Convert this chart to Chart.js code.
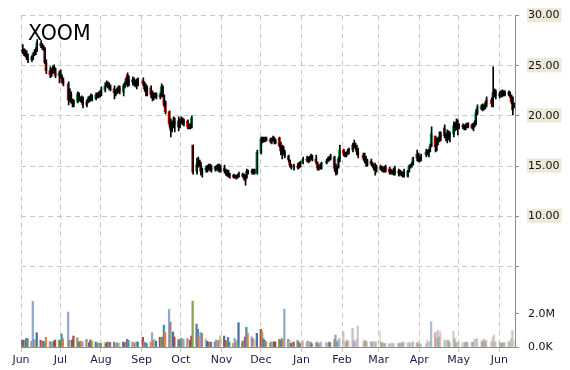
<!DOCTYPE html>
<html>
<head>
<meta charset="utf-8">
<script src="https://cdn.jsdelivr.net/npm/chart.js@4/dist/chart.umd.min.js"></script>
<style>
html,body{margin:0;padding:0;background:#fff;}
#wrap{position:relative;width:570px;height:370px;}
</style>
</head>
<body>
<div id="wrap"><canvas id="c" width="570" height="370"></canvas></div>
<script>
// ---------- DATA ----------
const title = 'XOOM';
const monthLabels = ['Jun','Jul','Aug','Sep','Oct','Nov','Dec','Jan','Feb','Mar','Apr','May','Jun'];
const holidays = ['2014-07-04','2014-09-01','2014-11-27','2014-12-25','2015-01-01','2015-01-19','2015-02-16','2015-04-03','2015-05-25'];
const firstDay = '2014-06-02';
const lastDay = '2015-06-12';
const priceTicks = [5, 10, 15, 20, 25, 30];
const volumeTicks = [0, 2];

const open = [
 26.6,26.4,26.3,26.1,25.8,25.6,25.9,26.2,26.4,26.5,27.2,27.0,26.8,26.7,25.3,24.5,24.2,24.4,24.8,24.6,24.0,
 24.2,23.9,23.5,23.2,21.6,22.2,21.5,21.2,21.4,22.1,21.7,21.6,21.8,21.1,21.4,21.7,21.8,21.9,21.7,22.1,22.0,22.2,
 22.1,22.6,23.0,23.3,23.0,22.8,22.7,22.3,22.4,22.6,22.8,22.4,23.0,23.2,24.1,23.1,23.6,23.4,23.3,23.2,23.6,
 23.5,23.2,22.7,22.4,22.8,22.1,21.9,22.0,22.1,21.9,22.0,22.9,22.0,21.3,20.4,19.2,18.6,19.3,19.1,19.5,18.9,
 19.4,19.6,19.3,19.5,18.9,19.1,18.9,17.1,14.5,15.2,15.6,15.1,14.2,14.6,14.8,14.7,15.0,14.8,14.7,14.9,14.8,15.0,14.8,
 14.8,14.5,14.4,14.4,14.0,14.1,13.9,14.0,13.9,14.1,14.2,14.0,13.8,13.8,14.5,14.4,14.5,14.6,14.3,
 16.3,17.7,17.5,17.6,17.7,17.6,17.4,17.7,17.8,17.4,17.8,17.0,16.2,16.9,16.4,16.0,15.6,15.1,14.9,15.0,14.9,15.2,
 15.3,15.7,15.6,15.5,15.9,16.0,15.7,15.4,14.8,14.9,14.8,15.3,15.5,15.7,15.8,15.9,14.8,14.4,14.9,15.7,
 16.6,16.2,16.0,16.3,16.5,16.6,17.2,17.0,16.8,16.4,16.1,15.9,15.5,15.1,15.5,15.2,15.0,14.8,14.6,
 14.9,14.8,14.7,14.6,14.9,14.7,14.4,14.5,14.3,14.6,14.3,14.5,14.3,14.2,14.4,14.0,14.5,15.0,15.1,15.2,15.8,16.2,
 15.7,15.6,16.1,16.4,16.2,16.6,17.0,18.0,16.9,17.3,17.6,17.7,18.8,18.0,17.8,18.1,17.9,18.2,19.0,18.8,19.4,
 18.9,19.0,18.9,18.8,19.0,19.1,19.1,18.8,19.1,19.3,20.3,20.8,20.9,20.7,21.0,21.2,21.6,21.2,22.3,22.4,
 22.0,22.2,22.3,22.5,22.1,22.3,22.2,22.0,21.8,20.9
];
const high = [
 27.1,26.7,26.6,26.5,26.2,26.0,26.3,26.6,26.8,27.6,27.5,27.2,27.0,26.8,25.6,24.9,24.7,25.0,25.1,24.8,24.5,
 24.6,24.1,23.8,23.4,22.7,22.4,21.7,21.6,22.4,22.3,21.9,22.0,21.9,21.6,21.9,22.0,22.2,22.1,22.3,22.3,22.4,22.5,
 22.9,23.3,23.5,23.4,23.3,23.1,23.0,22.6,22.8,23.0,23.0,23.2,23.4,23.8,24.3,24.0,23.9,23.8,23.6,23.7,23.8,
 23.8,23.4,23.2,23.0,23.0,22.5,22.3,22.3,22.3,22.3,23.2,23.0,22.1,21.5,20.5,19.7,19.5,19.9,19.8,19.9,19.7,
 19.9,19.8,19.7,19.6,19.2,19.2,20.0,17.1,15.8,15.9,15.6,15.4,14.8,15.0,15.1,15.2,15.2,15.1,15.0,15.1,15.2,15.2,15.1,
 15.1,14.7,14.6,14.6,14.3,14.2,14.1,14.1,14.2,14.4,14.3,14.2,14.1,14.7,14.6,14.7,14.7,14.7,16.6,
 17.9,17.9,17.9,17.9,17.9,17.8,17.8,18.0,17.9,17.7,17.9,17.4,17.1,17.0,16.6,16.1,15.6,15.2,15.2,15.3,15.4,15.5,
 15.9,16.0,15.9,16.0,16.2,16.1,16.1,15.4,15.1,15.2,15.4,15.7,15.9,16.0,16.2,16.0,15.2,15.0,15.9,17.1,
 16.7,16.4,16.4,16.7,16.8,17.3,17.6,17.3,17.1,16.8,16.3,16.3,16.0,15.7,15.7,15.4,15.2,15.3,15.1,
 15.1,15.0,14.9,15.0,15.1,14.9,14.7,14.6,14.8,15.0,14.7,14.6,14.5,14.4,14.7,14.6,15.1,15.2,15.4,15.9,16.6,16.3,
 16.0,16.2,16.7,16.6,16.7,17.2,18.9,18.0,17.8,17.9,18.4,18.4,19.1,18.3,18.6,18.5,18.4,19.4,19.3,19.7,19.6,
 19.2,19.2,19.1,19.2,19.3,19.3,19.2,19.3,19.5,20.6,21.1,21.1,21.2,21.1,21.4,21.9,21.8,24.9,22.7,22.6,
 22.4,22.5,22.6,22.5,22.5,22.5,22.4,22.1,21.9,21.3
];
const low = [
 26.2,26.0,25.9,25.6,25.3,25.4,25.6,26.0,26.1,26.4,26.8,26.6,26.5,25.2,24.2,23.8,23.9,24.2,24.3,23.8,23.3,
 23.8,23.3,23.0,21.1,21.4,21.3,20.9,20.9,21.3,21.5,21.4,21.3,20.8,20.9,21.3,21.4,21.5,21.5,21.6,21.8,21.8,21.9,
 22.0,22.4,22.9,22.8,22.6,22.5,21.7,22.0,22.2,22.3,22.2,22.0,22.8,23.1,22.9,23.0,23.1,23.0,22.9,22.7,23.0,
 23.0,22.5,22.0,22.0,21.8,21.5,21.6,21.8,21.7,21.7,21.9,21.9,20.9,20.2,18.9,17.9,18.4,18.8,18.4,18.5,18.8,
 19.2,19.1,19.0,18.7,18.7,18.7,18.8,14.2,14.2,14.9,15.0,14.1,13.9,14.4,14.4,14.6,14.5,14.4,14.5,14.6,14.5,14.4,14.4,
 14.3,14.1,14.0,13.9,13.8,13.8,13.8,13.7,13.8,13.9,13.9,13.6,13.1,13.8,14.2,14.2,14.2,14.2,14.2,
 16.2,17.3,17.4,17.4,17.5,17.3,17.2,17.5,17.2,17.2,16.9,16.1,15.7,16.2,15.8,15.4,14.9,14.7,14.6,14.7,14.8,14.9,
 15.2,15.4,15.3,15.4,15.6,15.5,15.2,14.6,14.6,14.7,14.7,15.2,15.4,15.5,15.6,14.5,14.1,14.2,14.8,15.4,
 16.0,15.9,15.9,16.1,16.2,16.4,16.8,16.6,16.1,15.8,15.6,15.3,15.0,15.0,15.1,14.9,14.6,14.1,14.4,
 14.6,14.5,14.4,14.4,14.4,14.2,14.2,14.2,14.1,14.1,14.0,14.1,14.0,13.9,13.9,13.9,14.4,14.8,14.9,15.1,15.5,15.4,
 15.4,15.5,15.9,16.1,15.9,16.4,16.9,16.4,16.5,17.1,17.4,17.5,17.8,17.5,17.3,17.6,17.4,17.9,18.5,18.6,18.1,
 18.7,18.7,18.6,18.6,18.8,18.8,18.7,18.5,18.9,19.1,20.1,20.6,20.5,20.6,20.7,20.9,20.9,20.9,21.9,21.7,
 21.8,21.9,21.9,22.0,22.0,22.0,21.8,21.2,20.1,20.8
];
const close = [
 26.4,26.3,26.1,25.8,25.6,25.9,26.2,26.4,26.6,27.3,27.0,26.8,26.7,25.3,24.5,24.1,24.4,24.8,24.6,24.0,24.3,
 23.9,23.5,23.2,21.6,22.2,21.5,21.2,21.4,22.2,21.7,21.6,21.8,21.1,21.4,21.7,21.8,21.9,21.7,22.1,22.0,22.2,22.1,
 22.6,23.0,23.3,23.0,22.8,22.7,22.3,22.4,22.6,22.8,22.5,23.0,23.2,23.7,23.1,23.6,23.4,23.3,23.2,23.4,23.1,
 23.2,22.7,22.4,22.8,22.1,21.9,22.0,22.1,21.9,22.1,22.9,22.0,21.1,20.4,19.2,18.6,19.3,19.1,19.5,18.9,19.4,
 19.6,19.3,19.5,18.9,18.8,18.8,19.8,14.4,15.2,15.5,15.1,14.5,14.6,14.8,14.7,15.0,14.8,14.7,14.9,14.8,15.0,14.8,14.6,
 14.5,14.4,14.3,14.0,14.1,13.9,14.0,13.9,14.1,14.2,14.0,13.8,13.6,14.5,14.4,14.5,14.6,14.3,16.4,
 17.7,17.5,17.6,17.7,17.6,17.5,17.7,17.8,17.4,17.5,17.0,16.5,16.9,16.4,16.0,15.6,15.1,14.9,15.0,14.9,15.2,15.3,
 15.7,15.6,15.5,15.9,16.0,15.7,15.4,14.8,14.9,14.8,15.3,15.5,15.7,15.8,16.0,14.8,14.4,14.9,15.7,16.6,
 16.2,16.0,16.3,16.5,16.6,17.1,17.0,16.8,16.4,16.1,15.8,15.5,15.3,15.5,15.2,15.0,14.8,14.6,14.9,
 14.8,14.7,14.6,14.9,14.6,14.4,14.5,14.3,14.6,14.3,14.5,14.3,14.2,14.1,14.0,14.5,15.0,15.1,15.2,15.8,16.2,15.7,
 15.6,16.1,16.4,16.3,16.6,17.0,18.2,16.9,17.3,17.6,17.8,18.2,18.0,17.8,18.1,17.9,18.2,19.0,18.8,19.4,18.9,
 19.0,18.9,18.8,19.0,19.1,19.0,18.8,19.1,19.3,20.3,20.8,20.9,20.7,21.0,21.2,21.6,21.2,22.3,22.4,22.0,
 22.2,22.3,22.5,22.1,22.3,22.2,22.0,21.4,20.6,21.1
];
// volume in millions of shares
const volume = [
 0.42,0.40,0.30,0.52,0.50,0.35,2.75,0.45,0.40,0.86,0.40,0.30,0.35,0.30,0.58,0.32,0.30,0.25,0.35,0.42,0.42,
 0.40,0.78,0.50,2.10,0.40,0.35,0.42,0.66,0.55,0.30,0.32,0.35,0.30,0.45,0.30,0.25,0.42,0.35,0.30,0.20,0.25,0.20,
 0.22,0.28,0.20,0.30,0.24,0.28,0.30,0.20,0.26,0.22,0.25,0.30,0.25,0.30,0.46,0.40,0.30,0.25,0.22,0.32,0.30,
 0.58,0.30,0.25,0.20,0.30,0.86,0.40,0.46,0.35,0.58,0.50,0.60,1.32,0.90,2.26,1.50,0.90,0.90,0.60,0.46,0.40,
 0.52,0.50,0.45,0.50,0.38,0.40,0.66,2.76,1.38,1.06,0.60,0.88,0.82,0.50,0.35,0.30,0.25,0.30,0.30,0.42,0.35,0.40,0.66,
 0.66,0.40,0.30,0.58,0.30,0.22,0.52,0.30,0.40,1.46,0.32,0.40,0.60,1.18,0.82,0.62,0.50,0.40,0.82,
 1.06,0.92,0.50,0.40,0.30,0.22,0.30,0.25,0.32,0.30,0.46,0.40,0.50,0.46,2.28,0.46,0.42,0.22,0.30,0.40,0.30,0.20,
 0.36,0.30,0.36,0.25,0.30,0.20,0.25,0.30,0.20,0.25,0.30,0.26,0.22,0.30,0.26,0.46,0.72,0.30,0.40,0.52,
 0.92,0.40,0.30,0.42,0.35,1.12,0.40,0.30,0.45,1.26,0.38,0.35,0.40,0.30,0.32,0.28,0.35,0.30,0.32,
 0.96,0.30,0.25,0.20,0.22,0.20,0.18,0.25,0.20,0.22,0.20,0.25,0.20,0.30,0.28,0.25,0.30,0.22,0.28,0.30,0.25,0.30,
 0.15,0.20,0.20,0.42,0.30,0.35,1.52,0.86,0.50,1.00,0.60,0.92,0.40,0.42,0.35,0.42,0.30,0.96,0.50,0.30,0.26,
 0.30,0.26,0.28,0.26,0.30,0.26,0.30,0.28,0.46,0.46,0.50,0.40,0.30,0.46,0.32,0.40,0.32,0.60,0.72,0.32,
 0.30,0.25,0.22,0.28,0.25,0.30,0.35,0.50,0.98,0.40
];

// ---------- calendar helpers (x = days since 1 Jun 2014) ----------
const DAY = 86400000;
const origin = Date.UTC(2014, 5, 1);
function parseISO(s){ const p = s.split('-').map(Number); return Date.UTC(p[0], p[1]-1, p[2]); }
const holidaySet = new Set(holidays.map(parseISO));
const tradingDays = [];
for (let t = parseISO(firstDay); t <= parseISO(lastDay); t += DAY) {
  const wd = new Date(t).getUTCDay();
  if (wd === 0 || wd === 6 || holidaySet.has(t)) continue;
  tradingDays.push(t);
}
const xDay = tradingDays.map(t => Math.round((t - origin) / DAY));
const monthStarts = monthLabels.map((m, i) => Math.round((Date.UTC(2014, 5 + i, 1) - origin) / DAY));

// ---------- styles ----------
const UP = '#0aa050', DOWN = '#ff0000';
const palette = ['#4572A7','#AA4643','#89A54E','#80699B','#3D96AE','#DB843D','#92A8CD','#A47D7C','#B5CA92'];
function hexA(h, a){ const n = parseInt(h.slice(1),16); return `rgba(${n>>16&255},${n>>8&255},${n&255},${a})`; }
const janStart = Math.round((Date.UTC(2015,0,1) - origin) / DAY);
const febStart = Math.round((Date.UTC(2015,1,1) - origin) / DAY);
const volColors = xDay.map((d, i) => hexA(palette[i % palette.length], d < janStart ? 1 : (d < febStart ? 0.7 : 0.45)));
const GRID = '#c8c8c8', AXIS = '#8c8c8c';
const FONT = {family: '"DejaVu Sans", Verdana, sans-serif', size: 11};

const n = Math.min(xDay.length, open.length);
const idx = Array.from({length: n}, (_, i) => i);

const titlePlugin = {
  id: 'cornerTitle',
  afterDraw(chart) {
    const c = chart.ctx;
    c.save();
    c.font = '20.5px "DejaVu Sans", Verdana, sans-serif';
    c.fillStyle = '#000';
    c.textBaseline = 'alphabetic';
    c.fillText(title, 28, 40);
    c.restore();
  }
};

new Chart(document.getElementById('c'), {
  type: 'bar',
  data: {
    datasets: [
      {
        label: 'body', yAxisID: 'y', grouped: false, order: 3,
        data: idx.map(i => ({x: xDay[i], y: [open[i], close[i]]})),
        backgroundColor: idx.map(i => close[i] >= open[i] ? UP : DOWN),
        barThickness: 2, minBarLength: 1, borderWidth: 0
      },
      {
        label: 'wick', yAxisID: 'y', grouped: false, order: 2,
        data: idx.map(i => ({x: xDay[i] + 0.35, y: [low[i], high[i]]})),
        backgroundColor: '#000', barThickness: 1, borderWidth: 0
      },
      {
        label: 'volume', yAxisID: 'yv', grouped: false, order: 1,
        data: idx.map(i => ({x: xDay[i], y: volume[i]})),
        backgroundColor: volColors, barThickness: 1.6, borderWidth: 0
      }
    ]
  },
  options: {
    responsive: false, animation: false, devicePixelRatio: 1,
    layout: {padding: {left: 21, top: 15, right: 0, bottom: 0}},
    plugins: {legend: {display: false}, tooltip: {enabled: false}, title: {display: false}},
    scales: {
      x: {
        type: 'linear', position: 'bottom', min: 0, max: 377, offset: false,
        grid: {offset: false, color: GRID, lineWidth: 1, drawTicks: true, tickLength: 5,
               tickColor: GRID, tickBorderDash: [5, 4]},
        border: {display: true, color: AXIS, width: 1, dash: [5, 4]},
        ticks: {autoSkip: false, maxRotation: 0, padding: 2, color: '#1c1c44', font: FONT,
                callback: (v) => { const k = monthStarts.indexOf(v); return k >= 0 ? monthLabels[k] : ''; }},
        afterBuildTicks: s => { s.ticks = monthStarts.map(v => ({value: v})); },
        afterFit: s => { s.height = 23; }
      },
      y: {
        type: 'linear', position: 'right', stack: 'right', stackWeight: 271, weight: 1,
        min: 3.03, max: 30, beginAtZero: false,
        grid: {color: GRID, drawTicks: true, tickLength: 4, tickColor: AXIS, tickBorderDash: []},
        border: {display: true, color: AXIS, width: 1, dash: [5, 4]},
        ticks: {padding: 9, color: '#111', font: FONT,
                showLabelBackdrop: true,
                backdropColor: ctx => (ctx.tick && ctx.tick.value === 5) ? 'rgba(0,0,0,0)' : '#ece9d8',
                backdropPadding: {top: 1, bottom: 0, left: 1, right: 2},
                callback: v => v === 5 ? '' : v.toFixed(2)},
        afterBuildTicks: s => { s.ticks = priceTicks.map(v => ({value: v})); },
        afterFit: s => { s.width = 55; }
      },
      yv: {
        type: 'linear', position: 'right', stack: 'right', stackWeight: 61, weight: 1,
        min: 0, max: 3.664, beginAtZero: false,
        grid: {drawOnChartArea: false, drawTicks: true, tickLength: 4, tickColor: AXIS},
        border: {display: true, color: AXIS, width: 1},
        ticks: {padding: 9, color: '#111', font: FONT,
                callback: v => v === 0 ? '0.0K' : v.toFixed(1) + 'M'},
        afterBuildTicks: s => { s.ticks = volumeTicks.map(v => ({value: v})); },
        afterFit: s => { s.width = 55; }
      }
    }
  },
  plugins: [titlePlugin]
});
</script>
</body>
</html>
